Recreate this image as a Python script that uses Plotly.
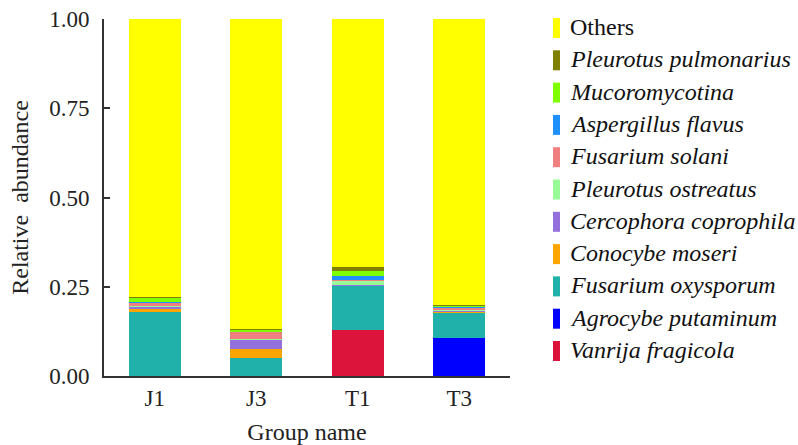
import plotly.graph_objects as go

groups = ["J1", "J3", "T1", "T3"]

# Relative abundance per taxon, listed from the bottom of the stack upward
vanrija_fragicola = [0.000, 0.000, 0.129, 0.000]
agrocybe_putaminum = [0.000, 0.000, 0.000, 0.106]
fusarium_oxysporum = [0.180, 0.051, 0.124, 0.071]
conocybe_moseri = [0.007, 0.024, 0.001, 0.001]
cercophora_coprophila = [0.008, 0.026, 0.001, 0.006]
pleurotus_ostreatus = [0.002, 0.002, 0.012, 0.001]
fusarium_solani = [0.008, 0.022, 0.003, 0.008]
aspergillus_flavus = [0.001, 0.001, 0.011, 0.001]
mucoromycotina = [0.015, 0.004, 0.012, 0.003]
pleurotus_pulmonarius = [0.001, 0.001, 0.012, 0.001]
others = [0.778, 0.869, 0.695, 0.802]

series = [
    ("<i>Vanrija fragicola</i>", vanrija_fragicola, "#DC143C"),
    ("<i>Agrocybe putaminum</i>", agrocybe_putaminum, "#0000FF"),
    ("<i>Fusarium oxysporum</i>", fusarium_oxysporum, "#20B2AA"),
    ("<i>Conocybe moseri</i>", conocybe_moseri, "#FFA500"),
    ("<i>Cercophora coprophila</i>", cercophora_coprophila, "#9370DB"),
    ("<i>Pleurotus ostreatus</i>", pleurotus_ostreatus, "#98FB98"),
    ("<i>Fusarium solani</i>", fusarium_solani, "#F08080"),
    ("<i>Aspergillus flavus</i>", aspergillus_flavus, "#1E90FF"),
    ("<i>Mucoromycotina</i>", mucoromycotina, "#7FFF00"),
    ("<i>Pleurotus pulmonarius</i>", pleurotus_pulmonarius, "#808000"),
    ("Others", others, "#FFFF00"),
]

FONT = "'Liberation Serif', 'Times New Roman', serif"

# plot area geometry (pixels) used to place the key in paper coordinates
L, R, T, B = 104, 510, 19, 376
W, H = 798, 445


def px_x(px):
    return (px - L) / (R - L)


def px_y(py):
    return (B - py) / (B - T)


fig = go.Figure()
for name, vals, color in series:
    fig.add_trace(go.Bar(
        x=groups, y=vals, name=name,
        marker=dict(color=color, line=dict(width=0)),
        showlegend=False,
    ))

# Key: top entry is the last stacked series
shapes, annotations = [], []
top_center, step = 28, 32.3
for k, (name, vals, color) in enumerate(reversed(series)):
    cy = top_center + k * step
    shapes.append(dict(
        type="rect", xref="paper", yref="paper",
        x0=px_x(553), x1=px_x(560), y0=px_y(cy - 10), y1=px_y(cy + 10),
        fillcolor=color, line=dict(width=0),
    ))
    annotations.append(dict(
        xref="paper", yref="paper", x=px_x(568), y=px_y(cy - 1),
        xanchor="left", yanchor="middle", text=name, showarrow=False,
        font=dict(family=FONT, size=24, color="#111111"),
    ))

fig.update_layout(
    width=W, height=H,
    barmode="stack", bargap=0.49,
    plot_bgcolor="white", paper_bgcolor="white",
    margin=dict(l=L, r=W - R, t=T, b=H - B),
    font=dict(family=FONT, size=22, color="#222222"),
    showlegend=False,
    shapes=shapes, annotations=annotations,
    xaxis=dict(
        range=[-0.5, 3.5], showline=True, linecolor="#333333", linewidth=2,
        ticks="", tickfont=dict(size=23), automargin=False,
        title=dict(text="Group name", font=dict(size=24), standoff=14),
    ),
    yaxis=dict(
        range=[0, 1], tickvals=[0, 0.25, 0.5, 0.75, 1.0],
        ticktext=["0.00", "0.25", "0.50", "0.75", "1.00"],
        showline=True, linecolor="#333333", linewidth=2,
        ticks="inside", ticklen=6, tickwidth=2, tickcolor="#333333",
        showgrid=False, zeroline=False, tickfont=dict(size=23),
        ticklabelstandoff=8, automargin=False,
        title=dict(text="Relative  abundance", font=dict(size=24), standoff=14),
    ),
)

fig.write_html("out.html")
